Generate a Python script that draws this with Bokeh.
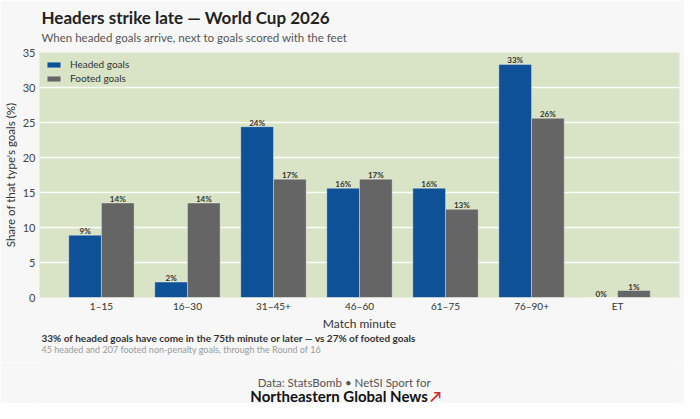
from bokeh.plotting import figure
from bokeh.layouts import column
from bokeh.models import ColumnDataSource, Range1d, FixedTicker, Legend, LegendItem, Title
from bokeh.core.properties import value
from bokeh.embed import file_html
from bokeh.resources import INLINE

categories = ["1–15", "16–30", "31–45+", "46–60", "61–75", "76–90+", "ET"]
headed_pct = [8.9, 2.2, 24.4, 15.6, 15.6, 33.3, 0.0]
footed_pct = [13.5, 13.5, 16.9, 16.9, 12.6, 25.6, 1.0]
y_ticks = [0, 5, 10, 15, 20, 25, 30, 35]

title_text = "Headers strike late — World Cup 2026"
subtitle_text = "When headed goals arrive, next to goals scored with the feet"
note_bold = "33% of headed goals have come in the 75th minute or later — vs 27% of footed goals"
note_grey = "45 headed and 207 footed non-penalty goals, through the Round of 16"
credit_1 = "Data: StatsBomb  •  NetSI Sport for"
credit_2 = "Northeastern Global News"

FONT = "Lato"
BLUE = "#0e5196"
GREY = "#656565"
PLOT_BG = "#d8e4c5"
PAGE_BG = "#f7f7f7"
W = 684
BL, BR = 36, 5          # left / right borders shared by the stacked figures
FW = W - BL - BR        # frame width
TEXT_SHIFT = 2          # horizontal offset of the titles from the frame edge


def title(text, size, color, style="normal", standoff=0.0, valign="bottom"):
    return Title(text=text, align="left", offset=TEXT_SHIFT, standoff=standoff,
                 vertical_align=valign, text_font=FONT, text_font_size=size,
                 text_color=color, text_font_style=style)


def spacer(standoff):
    # invisible dot (page colour) used only to reserve vertical space
    return Title(text=".", align="left", offset=0, standoff=standoff, vertical_align="bottom",
                 text_font=FONT, text_font_size="4px", text_color=PAGE_BG)


# ---- main chart (page y 8..370, frame 60..305) ----
idx = list(range(len(categories)))
bw = 0.38
src_h = ColumnDataSource(dict(x=[i - bw / 2 for i in idx], y=headed_pct,
                              t=[f"{v:.0f}%" for v in headed_pct]))
src_f = ColumnDataSource(dict(x=[i + bw / 2 for i in idx], y=footed_pct,
                              t=[f"{v:.0f}%" for v in footed_pct]))

p = figure(width=W, height=362, output_backend="svg", toolbar_location=None,
           x_range=Range1d(-0.72, len(categories) - 1 + 0.72), y_range=Range1d(0, 35),
           min_border_left=BL, min_border_right=BR, min_border_top=52, min_border_bottom=65)
p.title.visible = False
p.background_fill_color = PLOT_BG
p.border_fill_color = PAGE_BG
p.outline_line_color = None

r1 = p.vbar(x="x", top="y", width=bw, source=src_h, fill_color=BLUE,
            line_color="white", line_alpha=0.35, line_width=1)
r2 = p.vbar(x="x", top="y", width=bw, source=src_f, fill_color=GREY,
            line_color="white", line_alpha=0.35, line_width=1)

for s in (src_h, src_f):
    p.text(x="x", y="y", text="t", source=s, text_align="center", text_baseline="alphabetic",
           y_offset=-4, text_font=value(FONT), text_font_size="8px", text_font_style="bold",
           text_color="#333333")

for ax in (p.xaxis, p.yaxis):
    ax.axis_line_color = None
    ax.major_tick_line_color = None
    ax.minor_tick_line_color = None
    ax.major_tick_out = 0
    ax.major_tick_in = 0
    ax.minor_tick_out = 0
    ax.minor_tick_in = 0
    ax.major_label_text_font = FONT
    ax.axis_label_text_font = FONT
    ax.axis_label_text_font_style = "normal"
    ax.axis_label_text_color = "#333333"

p.xaxis.ticker = FixedTicker(ticks=idx)
p.xaxis.major_label_overrides = {i: c for i, c in zip(idx, categories)}
p.xaxis.major_label_standoff = 2
p.xaxis.major_label_text_font_size = "10px"
p.xaxis.major_label_text_color = "#333333"
p.xaxis.axis_label = "Match minute"
p.xaxis.axis_label_text_font_size = "12px"
p.xaxis.axis_label_standoff = 1

p.yaxis.ticker = FixedTicker(ticks=y_ticks)
p.yaxis.major_label_standoff = 4
p.yaxis.major_label_text_font_size = "11px"
p.yaxis.major_label_text_color = "#444444"
p.yaxis.axis_label = "Share of that type's goals (%)"
p.yaxis.axis_label_text_font_size = "11.5px"
p.yaxis.axis_label_standoff = 3

p.xgrid.grid_line_color = None
p.ygrid.grid_line_color = "white"
p.ygrid.grid_line_width = 1.5
p.ygrid.grid_line_alpha = 0.9

legend = Legend(items=[LegendItem(label="Headed goals", renderers=[r1]),
                       LegendItem(label="Footed goals", renderers=[r2])],
                location="top_left", background_fill_alpha=0, border_line_alpha=0,
                glyph_width=17, glyph_height=7, label_height=12, spacing=2, padding=0,
                margin=6, label_standoff=8, label_text_font=FONT,
                label_text_font_size="10px", label_text_color="#333333")
p.add_layout(legend)

# header: panels stack outward from the frame
p.add_layout(spacer(4), "above")
p.add_layout(title(subtitle_text, "11.5px", "#555555"), "above")
p.add_layout(title(title_text, "17px", "#222222", "bold", standoff=1), "above")

# notes below the x axis
p.add_layout(title(note_bold, "10px", "#333333", "bold", standoff=-4, valign="top"), "below")
p.add_layout(title(note_grey, "9px", "#9a9a9a", valign="top"), "below")

# ---- credits (page y 370..411) ----
bot = figure(width=W, height=41, output_backend="svg", toolbar_location=None,
             x_range=Range1d(0, FW), y_range=Range1d(41, 0),
             x_axis_type=None, y_axis_type=None,
             min_border_left=BL, min_border_right=BR, min_border_top=0, min_border_bottom=0)
bot.title.visible = False
bot.outline_line_color = None
bot.background_fill_color = PAGE_BG
bot.border_fill_color = PAGE_BG


def put(f, x, y, text, size, color, style="normal"):
    f.text(x=[x], y=[y], text=[text], text_font=value(FONT), text_font_size=size,
           text_color=color, text_font_style=style, text_align="center",
           text_baseline="alphabetic")


put(bot, 309, 19.5, credit_1, "11.5px", "#555555")
put(bot, 301, 33, credit_2, "15px", "#111111", "bold")
put(bot, 398, 33, "↗", "15px", "#d42a2a", "bold")

layout = column(p, bot, spacing=0)

html = file_html(layout, INLINE)
html = html.replace("<body>", f'<body style="background:{PAGE_BG}">', 1)
open("out.html", "w").write(html)
